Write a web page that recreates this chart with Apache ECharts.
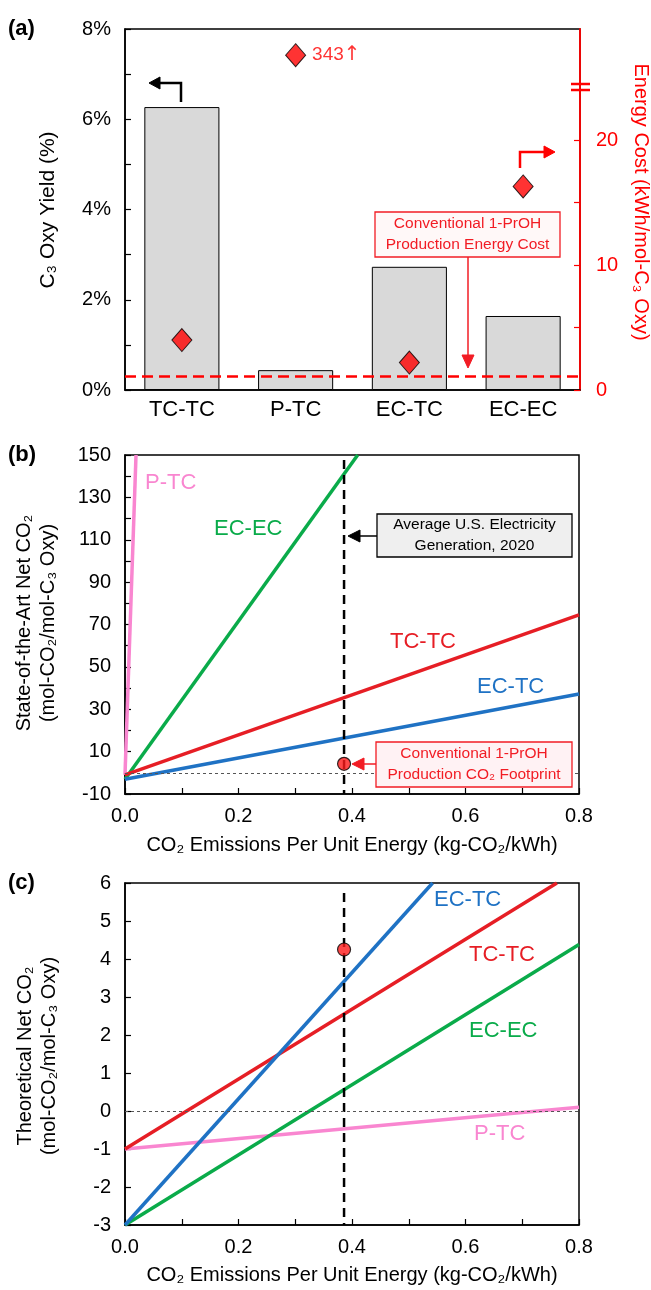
<!DOCTYPE html>
<html><head><meta charset="utf-8">
<script src="https://cdn.jsdelivr.net/npm/echarts@6/dist/echarts.min.js"></script>
<style>html,body{margin:0;padding:0;background:#fff}#c{width:651px;height:1290px}</style>
</head><body><div id="c"></div>
<script>
// ---------- DATA ----------
const categories = ['TC-TC', 'P-TC', 'EC-TC', 'EC-EC'];
const yieldPct = [6.27, 0.44, 2.73, 1.64];          // C3 Oxy yield (%)
const energyCost = [4.0, 343, 2.2, 16.3];           // kWh/mol-C3 Oxy
const energyAxisMax = 28.9;                         // broken right axis top
const energyBreakValue = 24.3;                      // axis break position
const brokenDrawValue = 26.8;                       // where off-scale values are drawn
const conventionalEnergy = 1.1;                     // conventional 1-PrOH energy cost
const energyTickValues = [0, 5, 10, 15, 20];
const energyLabelValues = [0, 10, 20];

const usGridIntensity = 0.386;                      // kg-CO2/kWh, US 2020
const conventionalCO2 = 4.25;                       // mol-CO2/mol-C3 Oxy

// (b) state-of-the-art lines [x, y]
const sotaTCTC = [[0, -1], [0.8, 74.5]];
const sotaPTC  = [[0, -1], [0.0194, 150]];
const sotaECTC = [[0, -3], [0.8, 37.2]];
const sotaECEC = [[0, -3], [0.41, 150]];
const sotaGridLine = [[usGridIntensity, 147.6], [usGridIntensity, -10]];

// (c) theoretical lines [x, y]
const theoTCTC = [[0, -1], [0.761, 6]];
const theoPTC  = [[0, -1], [0.8, 0.1]];
const theoECTC = [[0, -3], [0.542, 6]];
const theoECEC = [[0, -3], [0.8, 4.38]];
const theoGridLine = [[usGridIntensity, 5.74], [usGridIntensity, -3]];

// ---------- STYLE ----------
const F = "'Liberation Sans', Arial, Helvetica, sans-serif";
const C = { red: '#e61e25', blue: '#1f72c4', green: '#0aab4a', pink: '#f986d0', ann: '#f21c24' };

const chart = echarts.init(document.getElementById('c'), null, { renderer: 'canvas' });

const tickInside = { show: true, inside: true, length: 6, lineStyle: { color: '#000', width: 1.2 } };
const minorInside = { show: true, splitNumber: 2, length: 6, lineStyle: { color: '#000', width: 1.2 } };
const blackLine = { show: true, onZero: false, lineStyle: { color: '#000', width: 1.5 } };
const lbl = (extra) => Object.assign({ color: '#000', fontSize: 20, fontFamily: F }, extra || {});

function valueXAxis(gi) {
  return {
    gridIndex: gi, type: 'value', min: 0, max: 0.8, interval: 0.2,
    axisLine: blackLine, axisTick: tickInside, minorTick: minorInside,
    splitLine: { show: false }, minorSplitLine: { show: false },
    axisLabel: lbl({ margin: 12, formatter: v => v.toFixed(1) })
  };
}
function lineSeries(xi, yi, data, color) {
  return { type: 'line', xAxisIndex: xi, yAxisIndex: yi, data, showSymbol: false, symbol: 'none',
    lineStyle: { color, width: 3.5 }, z: 3, silent: true, animation: false };
}
function gridLineSeries(xi, yi, data) {
  return { type: 'line', xAxisIndex: xi, yAxisIndex: yi, data, showSymbol: false, symbol: 'none',
    lineStyle: { color: '#000', width: 2.5, type: [9, 6] }, z: 4, animation: false,
    markLine: { silent: true, symbol: 'none', label: { show: false },
      lineStyle: { color: '#555', width: 1, type: [3, 3] }, data: [{ yAxis: 0 }] } };
}
function dotSeries(xi, yi) {
  return { type: 'scatter', xAxisIndex: xi, yAxisIndex: yi, data: [[usGridIntensity, conventionalCO2]],
    symbol: 'circle', symbolSize: 13, z: 6, animation: false,
    itemStyle: { color: '#ff1a1a', borderColor: '#000', borderWidth: 1.2 } };
}

const scatterData = energyCost.map((v, i) => v > energyBreakValue
  ? { value: [i, brokenDrawValue], label: { show: true, formatter: v + '{ar|↑}' } }
  : { value: [i, v] });

const option = {
  backgroundColor: '#fff',
  animation: false,
  grid: [
    { left: 125, top: 29, width: 455, height: 361, show: true, borderColor: '#000', borderWidth: 1.5, backgroundColor: 'transparent' },
    { left: 125, top: 455, width: 454, height: 339, show: true, borderColor: '#000', borderWidth: 1.5, backgroundColor: 'transparent' },
    { left: 125, top: 883, width: 454, height: 342, show: true, borderColor: '#000', borderWidth: 1.5, backgroundColor: 'transparent' }
  ],
  xAxis: [
    { gridIndex: 0, type: 'category', data: categories, axisLine: blackLine, axisTick: { show: false },
      axisLabel: lbl({ fontSize: 22, margin: 9 }) },
    valueXAxis(1),
    valueXAxis(2)
  ],
  yAxis: [
    { gridIndex: 0, type: 'value', min: 0, max: 8, interval: 2, axisLine: blackLine,
      axisTick: tickInside, minorTick: minorInside, splitLine: { show: false },
      axisLabel: lbl({ margin: 14, formatter: '{value}%' }) },
    { gridIndex: 0, type: 'value', position: 'right', min: 0, max: energyAxisMax,
      axisLine: { show: true, lineStyle: { color: '#ff0000', width: 1.8 } },
      axisTick: { show: true, inside: true, length: 6, customValues: energyTickValues, lineStyle: { color: '#ff0000', width: 1.2 } },
      axisLabel: lbl({ color: '#ff0000', margin: 16, customValues: energyLabelValues }),
      splitLine: { show: false } },
    { gridIndex: 1, type: 'value', min: -10, max: 150, interval: 20, axisLine: blackLine,
      axisTick: tickInside, minorTick: minorInside, splitLine: { show: false }, minorSplitLine: { show: false },
      axisLabel: lbl({ margin: 14 }) },
    { gridIndex: 2, type: 'value', min: -3, max: 6, interval: 1, axisLine: blackLine,
      axisTick: tickInside, splitLine: { show: false },
      axisLabel: lbl({ margin: 14 }) }
  ],
  series: [
    { type: 'bar', xAxisIndex: 0, yAxisIndex: 0, data: yieldPct, barWidth: '66%',
      itemStyle: { color: '#d9d9d9', borderColor: '#000', borderWidth: 1 }, z: 2 },
    { type: 'scatter', xAxisIndex: 0, yAxisIndex: 1, data: scatterData, symbol: 'diamond', symbolSize: [20, 23], z: 5,
      itemStyle: { color: '#ff0000', borderColor: '#000', borderWidth: 1 },
      label: { show: false, position: 'right', distance: 6, color: '#ff0000', fontSize: 19, fontFamily: F,
        rich: { ar: { fontFamily: "'DejaVu Sans', sans-serif", fontSize: 20, color: '#ff0000' } } },
      markLine: { silent: true, symbol: 'none', label: { show: false },
        lineStyle: { color: '#ff0000', width: 2.5, type: [11, 6] }, data: [{ yAxis: conventionalEnergy }] } },

    lineSeries(1, 2, sotaPTC, C.pink),
    lineSeries(1, 2, sotaECEC, C.green),
    lineSeries(1, 2, sotaTCTC, C.red),
    lineSeries(1, 2, sotaECTC, C.blue),
    gridLineSeries(1, 2, sotaGridLine),
    dotSeries(1, 2),

    lineSeries(2, 3, theoPTC, C.pink),
    lineSeries(2, 3, theoECEC, C.green),
    lineSeries(2, 3, theoTCTC, C.red),
    lineSeries(2, 3, theoECTC, C.blue),
    gridLineSeries(2, 3, theoGridLine),
    dotSeries(2, 3)
  ]
};

// ---------- ANNOTATIONS ----------
function txt(x, y, text, o) {
  return { type: 'text', x, y, rotation: (o && o.rotation) || 0, z: 20,
    style: Object.assign({ text, fill: '#000', font: `${(o && o.bold) ? 'bold ' : ''}${(o && o.size) || 20}px ${F}`,
      align: (o && o.align) || 'center', verticalAlign: 'middle', lineHeight: (o && o.lh) || undefined }, (o && o.style) || {}) };
}
function poly(points, color, w) {
  return { type: 'polyline', z: 20, shape: { points }, style: { stroke: color, lineWidth: w || 2.5, fill: null } };
}
function head(points, color) {
  return { type: 'polygon', z: 20, shape: { points }, style: { fill: color, stroke: color, lineWidth: 1 } };
}
function box(x, y, w, h, fill, stroke) {
  return { type: 'rect', z: 19, shape: { x, y, width: w, height: h }, style: { fill, stroke, lineWidth: 1.3 } };
}

const graphic = [
  // panel labels
  txt(8, 29, '(a)', { bold: true, size: 22, align: 'left' }),
  txt(8, 455, '(b)', { bold: true, size: 22, align: 'left' }),
  txt(8, 883, '(c)', { bold: true, size: 22, align: 'left' }),

  // axis titles
  txt(48, 210, 'C₃ Oxy Yield (%)', { size: 21, rotation: Math.PI / 2 }),
  txt(641, 202, 'Energy Cost (kWh/mol-C₃ Oxy)', { size: 20, rotation: -Math.PI / 2, style: { fill: '#ff0000' } }),
  txt(36, 623, 'State-of-the-Art Net CO₂\n(mol-CO₂/mol-C₃ Oxy)', { size: 20, lh: 24, rotation: Math.PI / 2 }),
  txt(352, 845, 'CO₂ Emissions Per Unit Energy (kg-CO₂/kWh)', { size: 20 }),
  txt(37, 1056, 'Theoretical Net CO₂\n(mol-CO₂/mol-C₃ Oxy)', { size: 20, lh: 24, rotation: Math.PI / 2 }),
  txt(352, 1275, 'CO₂ Emissions Per Unit Energy (kg-CO₂/kWh)', { size: 20 }),

  // (a) arrows
  poly([[181, 102], [181, 83], [158, 83]], '#000'),
  head([[149, 83], [160, 77], [160, 89]], '#000'),
  poly([[520, 168], [520, 152], [545, 152]], '#ff0000'),
  head([[555, 152], [544, 146], [544, 158]], '#ff0000'),
  // axis break marks
  poly([[571, 84], [590, 84]], '#ff0000', 2.5),
  poly([[571, 90], [590, 90]], '#ff0000', 2.5),
  // (a) conventional energy box
  box(375, 212, 185, 45, '#fff8f8', C.ann),
  txt(467.5, 234.5, 'Conventional 1-PrOH\nProduction Energy Cost', { size: 15.5, lh: 21, style: { fill: C.ann } }),
  poly([[468, 257], [468, 358]], C.ann, 1.5),
  head([[468, 368], [462, 355], [474, 355]], C.ann),

  // (b) annotations
  box(377, 514, 195, 43, '#efefef', '#000'),
  txt(474.5, 535.5, 'Average U.S. Electricity\nGeneration, 2020', { size: 15.5, lh: 21 }),
  poly([[377, 536], [358, 536]], '#000', 1.5),
  head([[348, 536], [360, 530], [360, 542]], '#000'),
  box(376, 742, 196, 45, '#fff2f4', C.ann),
  txt(474, 764.5, 'Conventional 1-PrOH\nProduction CO₂ Footprint', { size: 15.5, lh: 21, style: { fill: C.ann } }),
  poly([[376, 764], [362, 764]], C.ann, 1.5),
  head([[352, 764], [364, 758], [364, 770]], C.ann),

  // (b) line labels
  txt(145, 483, 'P-TC', { size: 22, align: 'left', style: { fill: C.pink } }),
  txt(214, 529, 'EC-EC', { size: 22, align: 'left', style: { fill: C.green } }),
  txt(390, 642, 'TC-TC', { size: 22, align: 'left', style: { fill: C.red } }),
  txt(477, 687, 'EC-TC', { size: 22, align: 'left', style: { fill: C.blue } }),

  // (c) line labels
  txt(434, 900, 'EC-TC', { size: 22, align: 'left', style: { fill: C.blue } }),
  txt(469, 955, 'TC-TC', { size: 22, align: 'left', style: { fill: C.red } }),
  txt(469, 1031, 'EC-EC', { size: 22, align: 'left', style: { fill: C.green } }),
  txt(474, 1134, 'P-TC', { size: 22, align: 'left', style: { fill: C.pink } })
];
option.graphic = graphic;
chart.setOption(option);
</script>
</body></html>
